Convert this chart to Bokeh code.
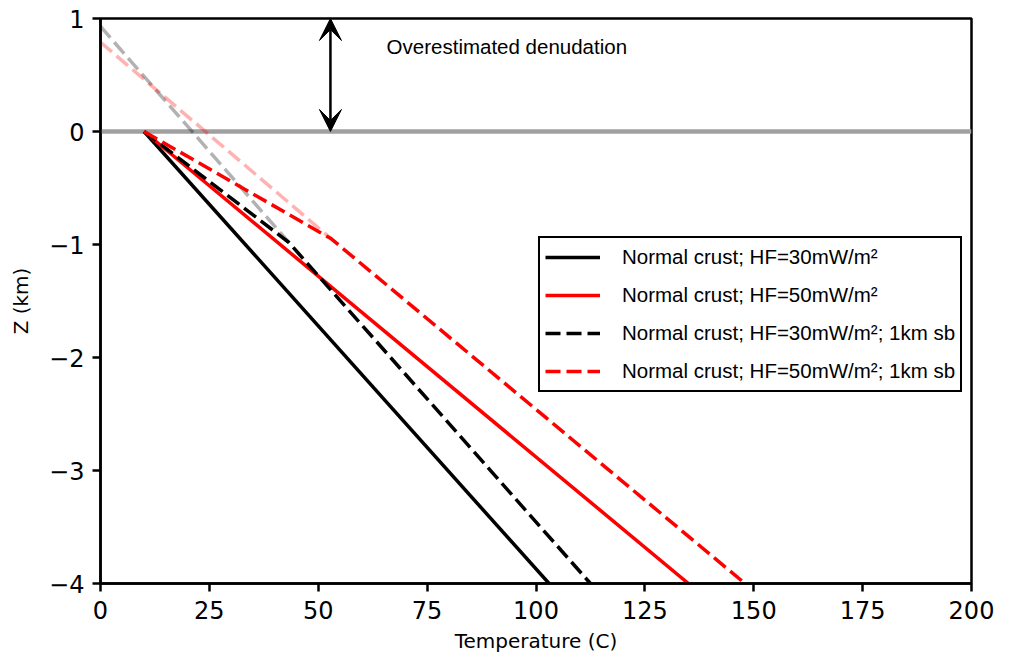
from bokeh.plotting import figure
from bokeh.models import Range1d, FixedTicker, Legend, LegendItem, Span, Arrow, VeeHead
from bokeh.core.properties import value
from bokeh.embed import file_html
from bokeh.resources import INLINE

# Geotherms: temperature (C) against depth Z (km)
hf30_T = [10, 103]
hf30_Z = [0, -4]
hf50_T = [10, 135]
hf50_Z = [0, -4]
hf30_sb_T = [10, 43.2, 112.5]
hf30_sb_Z = [0, -0.98, -4]
hf50_sb_T = [10, 53, 148]
hf50_sb_Z = [0, -0.95, -4]

# Upward extrapolation of the basement gradients
ext30_T = [0, 43.2]
ext30_Z = [0.93, -0.98]
ext50_T = [0, 53]
ext50_Z = [0.79, -0.95]

surface_Z = 0
arrow_T = 52.8
arrow_Z = [0, 1]
note_T = 65.7
note_Z = 0.75
note_text = "Overestimated denudation"

x_ticks = [0, 25, 50, 75, 100, 125, 150, 175, 200]
y_ticks = [-4, -3, -2, -1, 0, 1]

labels = [
    "Normal crust; HF=30mW/m\u00b2",
    "Normal crust; HF=50mW/m\u00b2",
    "Normal crust; HF=30mW/m\u00b2; 1km sb",
    "Normal crust; HF=50mW/m\u00b2; 1km sb",
]

TICK_FONT = "DejaVu Sans"
TEXT_FONT = "Liberation Sans"
LW = 3.5
DASH = "15 6"

p = figure(width=1011, height=658, x_range=Range1d(0, 200), y_range=Range1d(-4, 1),
           output_backend="svg", toolbar_location=None,
           min_border_left=100, min_border_right=40, min_border_top=18,
           min_border_bottom=75)
p.grid.visible = False
p.outline_line_color = "black"
p.outline_line_alpha = 1.0
p.outline_line_width = 2.5

# surface reference level
p.add_layout(Span(location=surface_Z, dimension="width", line_color="#a0a0a0",
                  line_width=4.5, level="underlay"))

p.line(ext30_T, ext30_Z, line_color="black", line_alpha=0.3, line_width=LW, line_dash=DASH)
p.line(ext50_T, ext50_Z, line_color="red", line_alpha=0.3, line_width=LW, line_dash=DASH)

r1 = p.line(hf30_T, hf30_Z, line_color="black", line_width=LW)
r2 = p.line(hf50_T, hf50_Z, line_color="red", line_width=LW)
r3 = p.line(hf30_sb_T, hf30_sb_Z, line_color="black", line_width=LW, line_dash=DASH)
r4 = p.line(hf50_sb_T, hf50_sb_Z, line_color="red", line_width=LW, line_dash=DASH)

# denudation arrow and note
head = dict(size=22, fill_color="black", line_color="black", line_width=1)
p.add_layout(Arrow(start=VeeHead(**head), end=VeeHead(**head),
                   x_start=arrow_T, y_start=arrow_Z[0], x_end=arrow_T, y_end=arrow_Z[1],
                   line_color="black", line_width=2.5))
p.text(x=[note_T], y=[note_Z], text=[note_text], text_font=value(TEXT_FONT),
       text_font_size="20.5px", text_baseline="middle", text_align="left", text_color="black")

legend = Legend(items=[LegendItem(label=l, renderers=[r]) for l, r in zip(labels, [r1, r2, r3, r4])],
                location=(438, 191), label_text_font=TEXT_FONT, label_text_font_size="20.5px",
                label_text_color="black",
                glyph_width=55, glyph_height=28, label_height=28, spacing=10,
                label_standoff=22, padding=5, margin=0,
                border_line_color="black", border_line_alpha=1.0, border_line_width=2,
                background_fill_color="white", background_fill_alpha=1.0)
p.add_layout(legend, "center")

# axes
p.xaxis.ticker = FixedTicker(ticks=x_ticks)
p.yaxis.ticker = FixedTicker(ticks=y_ticks)
p.yaxis.major_label_overrides = {t: (str(t).replace("-", "\u2212")) for t in y_ticks}
for ax in (p.xaxis[0], p.yaxis[0]):
    ax.axis_line_width = 2.5
    ax.axis_line_color = "black"
    ax.major_tick_line_width = 2.5
    ax.major_tick_line_color = "black"
    ax.major_tick_out = 8
    ax.major_tick_in = 0
    ax.minor_tick_out = 0
    ax.minor_tick_in = 0
    ax.major_label_text_font = TICK_FONT
    ax.major_label_text_font_size = "24px"
    ax.major_label_text_color = "black"
    ax.axis_label_text_font = TICK_FONT
    ax.axis_label_text_font_size = "20px"
    ax.axis_label_text_font_style = "normal"
    ax.axis_label_text_color = "black"
p.xaxis.major_label_standoff = 9
p.xaxis.axis_label_standoff = 7
p.yaxis.major_label_standoff = 8
p.yaxis.axis_label_standoff = 13
p.xaxis.axis_label = "Temperature (C)"
p.yaxis.axis_label = "Z (km)"

open("out.html", "w").write(file_html(p, INLINE))
